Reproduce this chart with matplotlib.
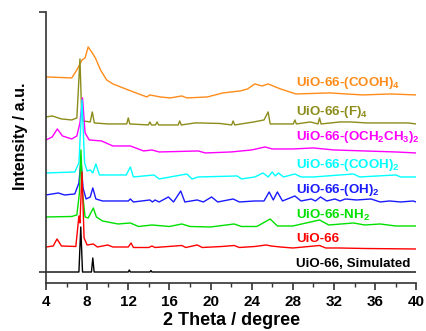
import matplotlib
matplotlib.use("Agg")
import matplotlib.pyplot as plt
from matplotlib.ticker import MultipleLocator

plt.rcParams['font.family'] = ['Liberation Sans', 'DejaVu Sans']
plt.rcParams['font.weight'] = 'bold'
plt.rcParams['mathtext.fontset'] = 'custom'
plt.rcParams['mathtext.rm'] = 'Liberation Sans:bold'
plt.rcParams['mathtext.bf'] = 'Liberation Sans:bold'

# XRD patterns: (2 theta, stacked intensity in a.u.)
sim_x = [4.0, 7.2, 7.38, 7.55, 8.42, 8.55, 8.68, 12.0, 12.1, 12.2, 14.1, 14.2, 14.3, 40.0]
sim_y = [11, 11, 56, 11, 11, 25, 11, 11, 13, 11, 11, 12.5, 11, 11]

uio_x = [4.0, 4.7, 5.07, 5.5, 6.9, 7.2, 7.3, 7.5, 7.7, 8.0, 8.6, 9.0, 10.0, 10.5, 12.0, 12.27,
         12.5, 14.0, 14.3, 14.6, 17.2, 17.6, 18.7, 19.2, 21.1, 22.3, 22.8, 24.3, 25.4, 25.9,
         26.8, 28.0, 30.6, 31.2, 32.5, 35.0, 40.0]
uio_y = [36, 37, 44, 37, 36.5, 67, 60, 111, 45, 38, 39, 36, 38, 36, 36, 40,
         35.5, 35.5, 37, 35.5, 37.5, 35.5, 38, 35.5, 36.5, 37.5, 35.5, 36.5, 38, 37,
         36, 35, 37.5, 35, 35, 34.5, 34]

nh2_x = [4.0, 6.5, 7.0, 7.25, 7.4, 7.55, 7.8, 8.1, 8.35, 8.6, 8.9, 9.5, 11.0, 12.2, 13.0,
         14.3, 16.0, 17.2, 18.0, 20.0, 22.3, 23.0, 24.5, 25.8, 26.5, 28.0, 30.6, 31.5,
         33.9, 35.0, 36.5, 38.0, 40.0]
nh2_y = [66, 66.5, 68, 90, 133, 90, 66, 65, 70, 75, 66, 62, 59, 60, 56.5,
         58, 56.5, 59, 56.5, 56, 59, 56.5, 56.5, 64, 57, 57, 63, 58,
         60, 58, 59, 57, 57]

oh2_x = [4.0, 5.2, 5.8, 6.8, 7.2, 7.4, 7.6, 7.9, 8.3, 8.55, 8.85, 9.5, 12.0, 12.2, 12.5,
         14.1, 14.35, 14.6, 15.0, 15.9, 16.4, 17.1, 17.5, 18.7, 19.3, 20.1, 20.7, 22.2,
         22.8, 24.3, 25.2, 25.7, 26.1, 26.5, 27.0, 28.2, 28.8, 29.8, 30.2, 30.7, 31.3,
         32.1, 32.6, 33.1, 34.2, 35.6, 36.5, 37.4, 38.5, 39.7, 40.0]
oh2_y = [88, 90, 88, 89, 100, 123, 95, 84, 86, 95, 84, 82, 82, 84, 81,
         83, 81, 83, 81, 86, 81, 92, 81, 83, 81, 86, 81, 84,
         81, 82, 82, 91, 83, 91, 82, 87, 82, 84, 82, 86, 82,
         84, 82, 84, 83, 84, 81, 82, 81, 82, 81]

cooh2_x = [4.0, 6.8, 7.2, 7.5, 7.75, 8.0, 8.3, 8.55, 8.85, 9.2, 11.8, 12.2, 12.5, 14.5, 15.0,
           17.7, 18.2, 18.8, 22.6, 23.0, 24.3, 25.1, 25.6, 26.0, 26.3, 26.6, 27.1, 28.2,
           28.8, 30.0, 33.9, 34.5, 38.0, 38.5, 40.0]
cooh2_y = [110, 111, 120, 183, 120, 112, 113, 110, 119, 108, 108, 116, 106, 108, 104,
           109, 104, 106, 107, 104, 106, 110, 106, 111, 107, 110, 106, 109,
           106, 106, 109, 106, 108, 106, 106]

oet_x = [4.0, 4.6, 5.1, 5.6, 6.5, 7.0, 7.3, 7.55, 7.8, 8.2, 9.4, 10.5, 12.2, 13.5, 14.3, 15.0,
         18.8, 19.5, 22.0, 24.0, 25.3, 26.0, 28.0, 30.0, 32.0, 35.0, 38.0, 40.0]
oet_y = [143, 146, 154, 147, 144, 147, 160, 185, 150, 143, 142, 137, 137, 132, 133, 131,
         132, 130, 131, 133, 136, 134, 134, 135, 133, 132, 131, 130]

f4_x = [4.0, 4.6, 5.5, 6.5, 7.0, 7.3, 7.45, 7.6, 8.3, 8.5, 8.7, 10.0, 11.85, 12.0, 12.15,
        13.95, 14.1, 14.25, 14.65, 14.8, 14.95, 16.85, 17.0, 17.15, 18.5, 18.9, 20.9, 22.05,
        22.2, 22.35, 24.2, 25.2, 25.6, 25.8, 28.05, 28.2, 28.35, 29.7, 30.45, 30.6, 30.75,
        32.6, 33.6, 35.2, 37.3, 39.2, 40.0]
f4_y = [166, 167, 164, 163, 165, 224, 175, 162, 161, 171, 160, 159, 159, 165, 159,
        158, 161, 158, 158, 161, 158, 158, 162, 158, 160, 160, 159.5, 158,
        162, 158, 161, 163, 171, 159, 159, 163, 159, 161, 159, 165, 159,
        161, 161, 160, 160, 160, 159]

cooh4_x = [4.0, 6.5, 7.0, 7.5, 7.8, 8.1, 8.5, 8.8, 9.3, 9.9, 10.5, 11.5, 12.5, 13.8, 14.1,
           15.1, 16.1, 17.2, 17.7, 19.7, 21.2, 22.9, 23.6, 24.3, 25.0, 25.6, 26.8, 28.3,
           31.6, 34.8, 37.5, 40.0]
cooh4_y = [206, 205, 213, 223, 225, 236, 230, 225, 213, 203, 199, 195, 191, 186, 188,
           186, 185, 187, 185, 186, 190, 192, 194, 199, 197, 199, 194, 189,
           190, 188, 189, 188]

names = ['UiO-66, Simulated', 'UiO-66', r'UiO-66-NH$_\mathbf{2}$', r'UiO-66-(OH)$_\mathbf{2}$',
         r'UiO-66-(COOH)$_\mathbf{2}$', r'UiO-66-(OCH$_\mathbf{2}$CH$_\mathbf{3}$)$_\mathbf{2}$',
         r'UiO-66-(F)$_\mathbf{4}$', r'UiO-66-(COOH)$_\mathbf{4}$']
label_y = [19, 44, 68, 93, 118, 146, 171, 200]
colors = ['black', '#ff0000', '#00e000', '#1a1aff', '#00ffff', '#ff00ff', '#8c8c1a', '#ff8c1a']

series = [(sim_x, sim_y), (uio_x, uio_y), (nh2_x, nh2_y), (oh2_x, oh2_y),
          (cooh2_x, cooh2_y), (oet_x, oet_y), (f4_x, f4_y), (cooh4_x, cooh4_y)]

fig = plt.figure(figsize=(4.26, 3.31), dpi=100)
ax = fig.add_axes([0.108, 0.145, 0.869, 0.819])

# draw top pattern first so lower ones sit on top, like the original
for (xs, ys), c in reversed(list(zip(series, colors))):
    ax.plot(xs, ys, color=c, lw=1.0)

for name, ly, c in zip(names, label_y, colors):
    ax.text(28.3, ly, name, color=c, fontsize=9.6, fontweight='bold', va='center', ha='left')

ax.set_xlim(4, 40)
ax.set_ylim(0, 271)
ax.xaxis.set_major_locator(MultipleLocator(4))
ax.xaxis.set_minor_locator(MultipleLocator(2))
ax.set_yticks([11, 271])
ax.set_yticklabels([])
ax.tick_params(axis='x', which='major', direction='out', length=5, width=1.2,
               labelsize=11, colors='#333333', labelcolor='black')
ax.tick_params(axis='x', which='minor', direction='out', length=3, width=1.0, colors='#333333')
ax.tick_params(axis='y', direction='out', length=5, width=1.2, colors='#333333')
for lab in ax.get_xticklabels():
    lab.set_fontweight('bold')

for s in ['top', 'right']:
    ax.spines[s].set_visible(False)
for s in ['left', 'bottom']:
    ax.spines[s].set_linewidth(1.2)
    ax.spines[s].set_color('#333333')

ax.set_xlabel('2 Theta / degree', fontsize=13, fontweight='bold', labelpad=2)
ax.set_ylabel('Intensity / a.u.', fontsize=11.5, fontweight='bold')
ax.yaxis.set_label_coords(-0.048, 0.542)

fig.savefig('out.png', dpi=100)
